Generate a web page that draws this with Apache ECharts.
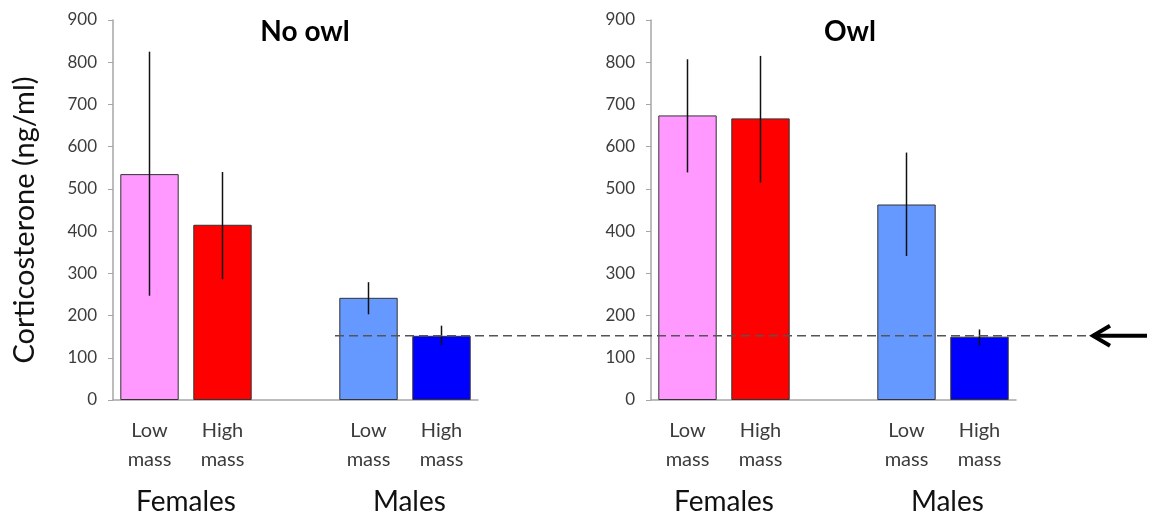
<!DOCTYPE html>
<html>
<head>
<meta charset="utf-8">
<script src="https://cdn.jsdelivr.net/npm/echarts@6/dist/echarts.min.js"></script>
<style>
    html, body { margin: 0; padding: 0; background: #fff; }
    #chart { width: 1149px; height: 520px; }
</style>
</head>
<body>
<div id="chart"></div>
<script>
// data
var categories = ['Low\nmass', 'High\nmass', '', 'Low\nmass', 'High\nmass'];
var groupNames = ['Females', 'Males'];
var groupPos = [1, 4.06];
var panelTitles = ['No owl', 'Owl'];
var noOwlMean = [535, 415, null, 242, 152];
var noOwlLow = [247, 286, null, 203, 130];
var noOwlHigh = [825, 540, null, 279, 176];
var owlMean = [674, 667, null, 463, 150];
var owlLow = [539, 515, null, 341, 129];
var owlHigh = [807, 815, null, 586, 167];
var barColors = ['#FF99FF', '#FF0000', null, '#6699FF', '#0000FF'];
var baseline = 152;
var yMin = 0, yMax = 900, yStep = 100;

var font = 'Lato, "Open Sans", sans-serif';
var textColor = '#3c3c3c';

var dom = document.getElementById('chart');
var myChart = echarts.init(dom);

function barData(means) {
    var out = [];
    for (var i = 0; i < means.length; i++) {
        out.push({
            value: means[i],
            itemStyle: { color: barColors[i] || 'transparent' }
        });
    }
    return out;
}

function errData(lo, hi) {
    var out = [];
    for (var i = 0; i < lo.length; i++) {
        if (lo[i] == null) continue;
        out.push([i, lo[i], hi[i]]);
    }
    return out;
}

function renderErr(params, api) {
    var a = api.coord([api.value(0), api.value(1)]);
    var b = api.coord([api.value(0), api.value(2)]);
    return {
        type: 'line',
        shape: { x1: a[0], y1: a[1], x2: b[0], y2: b[1] },
        style: { stroke: '#111', lineWidth: 1.5 }
    };
}

function catAxis(gi) {
    return {
        type: 'category',
        gridIndex: gi,
        data: categories,
        axisLine: { lineStyle: { color: '#a6a6a6', width: 1.5 } },
        axisTick: { show: false },
        axisLabel: {
            color: textColor,
            fontSize: 20,
            lineHeight: 29,
            margin: 16,
            fontFamily: font,
            interval: 0
        }
    };
}

function groupAxis(gi) {
    return {
        type: 'value',
        gridIndex: gi,
        position: 'bottom',
        min: 0,
        max: 5,
        axisLine: { show: false },
        axisTick: { show: false },
        splitLine: { show: false },
        axisLabel: {
            customValues: groupPos,
            color: '#111',
            fontSize: 28,
            lineHeight: 30,
            margin: 87,
            fontFamily: font,
            formatter: function(v) {
                var k = groupPos.indexOf(v);
                return k >= 0 ? groupNames[k] : '';
            }
        }
    };
}

function valAxis(gi, withName) {
    var ax = {
        type: 'value',
        gridIndex: gi,
        min: yMin,
        max: yMax,
        interval: yStep,
        splitLine: { show: false },
        axisLine: { show: true, lineStyle: { color: '#a6a6a6', width: 1.5 } },
        axisTick: { show: true, length: 5, lineStyle: { color: '#a6a6a6' } },
        axisLabel: {
            color: textColor,
            fontSize: 17,
            margin: 16,
            fontFamily: font
        }
    };
    if (withName) {
        ax.name = 'Corticosterone (ng/ml)';
        ax.nameLocation = 'middle';
        ax.nameGap = 74;
        ax.nameTextStyle = { color: '#111', fontSize: 29, fontFamily: font, padding: [0, 20, 0, 0] };
    }
    return ax;
}

var option = {
    animation: false,
    textStyle: { fontFamily: font },
    title: [{
        text: panelTitles[0],
        left: 300,
        top: 13,
        textAlign: 'center',
        textStyle: { color: '#000', fontSize: 28, fontWeight: 'bold', fontFamily: font }
    }, {
        text: panelTitles[1],
        left: 845,
        top: 13,
        textAlign: 'center',
        textStyle: { color: '#000', fontSize: 28, fontWeight: 'bold', fontFamily: font }
    }],
    grid: [
        { left: 113, top: 20, width: 365, height: 380 },
        { left: 651, top: 20, width: 365, height: 380 }
    ],
    xAxis: [catAxis(0), catAxis(1), groupAxis(0), groupAxis(1)],
    yAxis: [valAxis(0, true), valAxis(1, false)],
    series: [{
            name: 'No owl',
            type: 'bar',
            xAxisIndex: 0,
            yAxisIndex: 0,
            barWidth: '80%',
            itemStyle: { borderColor: '#333', borderWidth: 1 },
            data: barData(noOwlMean)
        },
        {
            name: 'Owl',
            type: 'bar',
            xAxisIndex: 1,
            yAxisIndex: 1,
            barWidth: '80%',
            itemStyle: { borderColor: '#333', borderWidth: 1 },
            data: barData(owlMean)
        },
        {
            type: 'custom',
            xAxisIndex: 0,
            yAxisIndex: 0,
            z: 5,
            renderItem: renderErr,
            data: errData(noOwlLow, noOwlHigh)
        },
        {
            type: 'custom',
            xAxisIndex: 1,
            yAxisIndex: 1,
            z: 5,
            renderItem: renderErr,
            data: errData(owlLow, owlHigh)
        }
    ]
};

myChart.setOption(option, true);

// dashed reference line across both panels, plus the arrow
var p2 = myChart.convertToPixel({ xAxisIndex: 0, yAxisIndex: 0 }, [2, baseline]);
var p3 = myChart.convertToPixel({ xAxisIndex: 0, yAxisIndex: 0 }, [3, baseline]);
var q4 = myChart.convertToPixel({ xAxisIndex: 1, yAxisIndex: 1 }, [4, baseline]);
var band = p3[0] - p2[0];
var x0 = p3[0] - band / 2 + 3;
var x1 = q4[0] + band * 1.5;
var yb = p3[1];

myChart.setOption({
    graphic: [{
            type: 'line',
            z: 10,
            shape: { x1: x0, y1: yb, x2: x1, y2: yb },
            style: { stroke: '#555', lineWidth: 1.5, lineDash: [9, 5] }
        },
        {
            type: 'line',
            z: 10,
            shape: { x1: x1 + 4, y1: yb, x2: 1147, y2: yb },
            style: { stroke: '#000', lineWidth: 4 }
        },
        {
            type: 'polyline',
            z: 10,
            shape: { points: [[x1 + 21, yb - 10], [x1 + 4, yb], [x1 + 21, yb + 10]] },
            style: { stroke: '#000', lineWidth: 4, fill: null, lineJoin: 'miter' }
        }
    ]
});

window.onresize = myChart.resize;
</script>
</body>
</html>
